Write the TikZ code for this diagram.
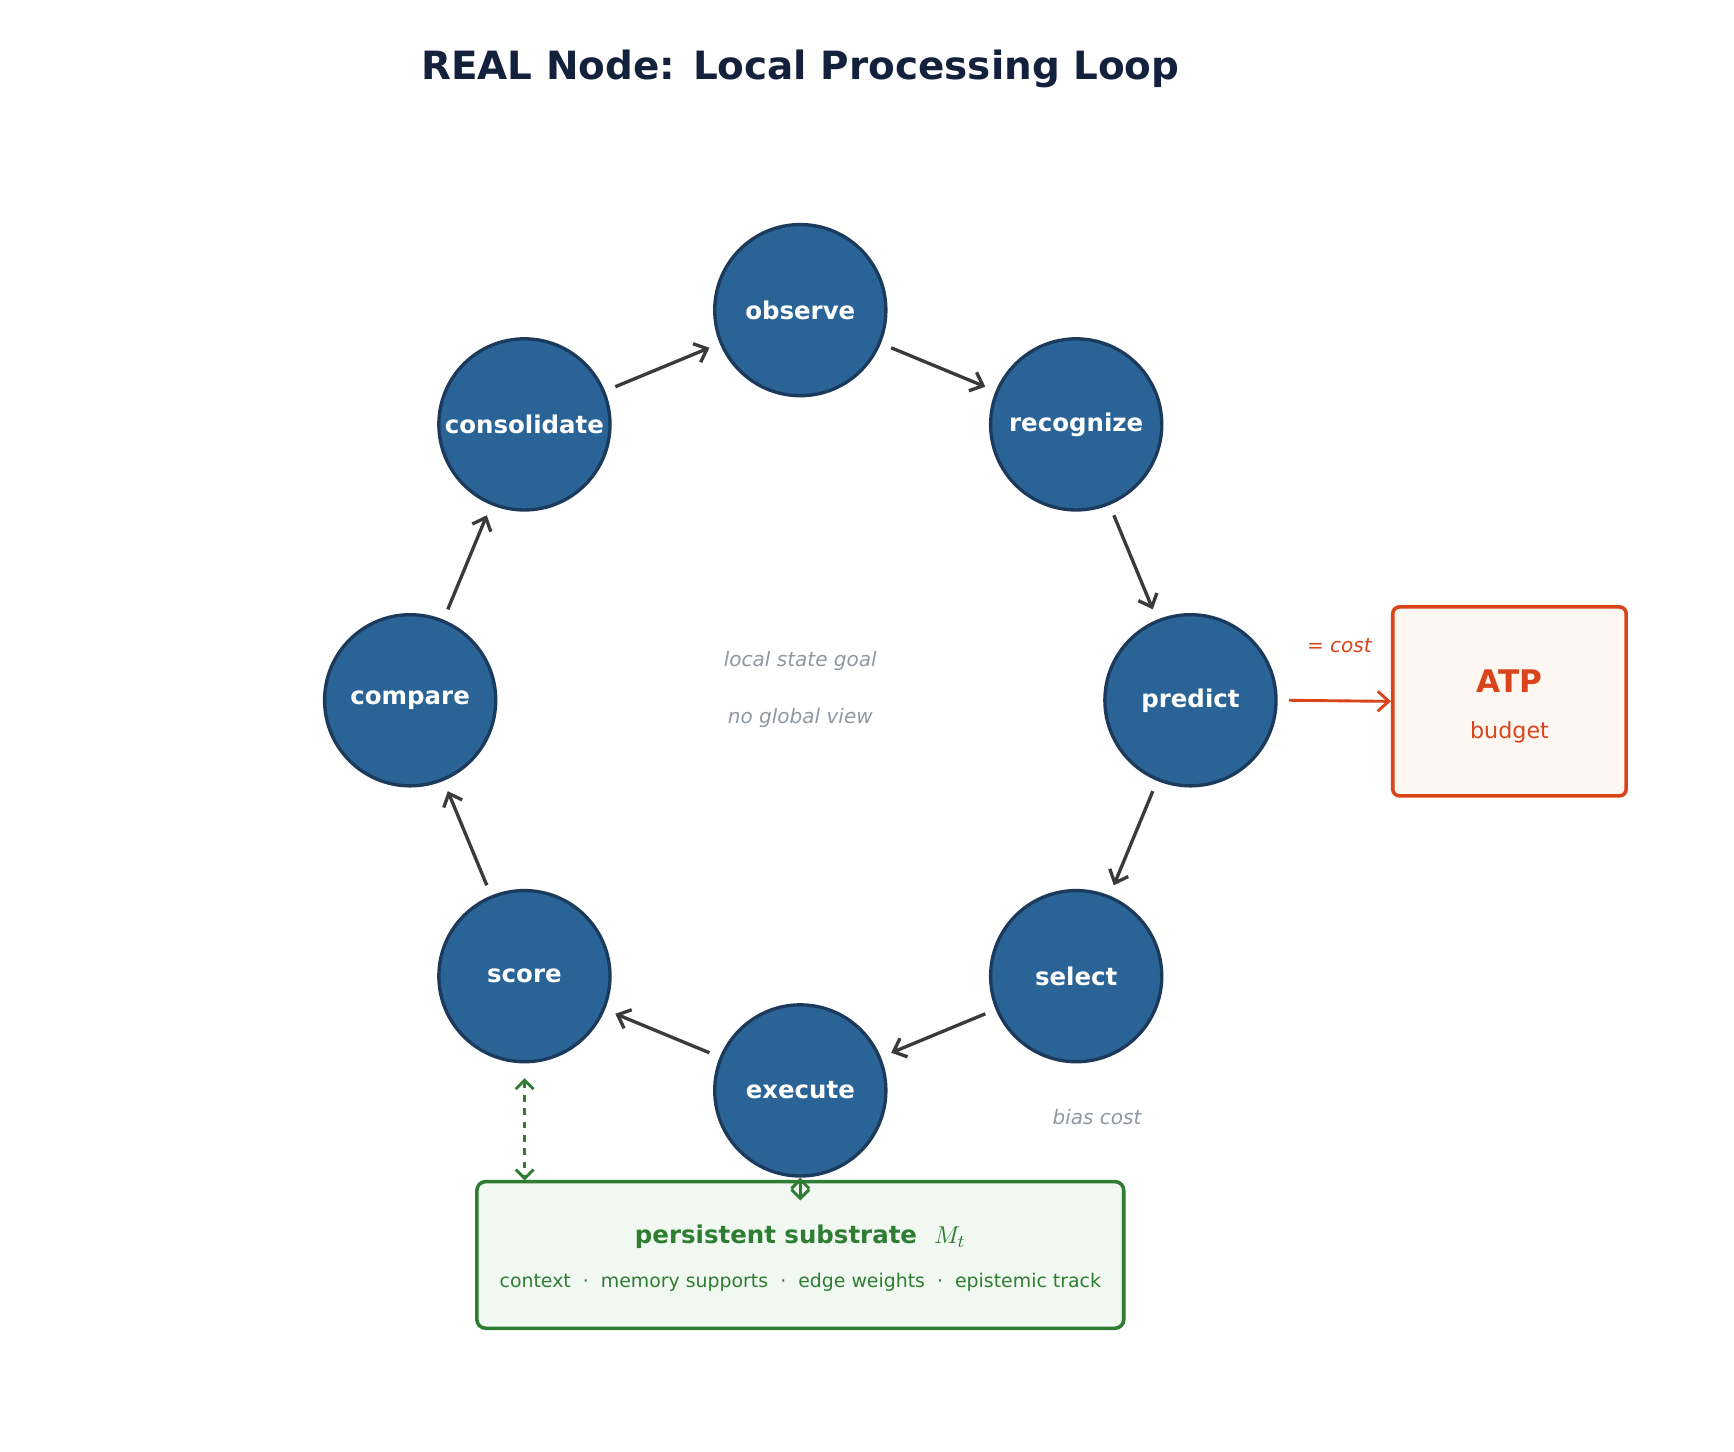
\documentclass[tikz,border=0pt]{standalone}
\usepackage{fontspec}
\setmainfont{DejaVu Sans}
\usetikzlibrary{arrows.meta}
\definecolor{stepfill}{HTML}{2A6496}
\definecolor{stepline}{HTML}{1B3A5C}
\definecolor{titlecol}{HTML}{14213D}
\definecolor{atpred}{HTML}{D9441A}
\definecolor{atpfill}{HTML}{FEF7F1}
\definecolor{subgreen}{HTML}{2E7D32}
\definecolor{subfill}{HTML}{F1F7F1}
\definecolor{notegray}{HTML}{8F979F}
\definecolor{flowgray}{HTML}{3A3A3A}

\begin{document}
\begin{tikzpicture}
	[x=0.5pt, y=-0.5pt,%
	stepnode/.style ={circle, draw=stepline, fill=stepfill, line width=1.5pt, inner sep=0pt, minimum size=77pt, text=white, font=\fontsize{11}{13}\selectfont\bfseries},%
	flow/.style ={-{Straight Barb[length=5pt,width=9pt]}, draw=flowgray, line width=1.5pt, shorten <=5pt, shorten >=5pt},%
	note/.style ={text=notegray, font=\fontsize{9}{11}\selectfont\itshape},%
	]
	\useasboundingbox (0,0) rectangle (1560,1306);

	% title
	\node (title) at (720,62) [text=titlecol, font=\fontsize{17.5}{20}\selectfont\bfseries] {REAL Node: Local Processing Loop};

	% loop nodes
	\foreach \n/\a in {observe/90, recognize/45, predict/0, select/-45, execute/-90, score/-135, compare/180, consolidate/135}
		\node (\n) at ({720+351*cos(\a)},{630-351*sin(\a)}) [stepnode] {\n};

	% notes
	\node (goal) at (720,595) [note] {local state goal};
	\node (view) at (720,646) [note] {no global view};
	\node (bias) at (987,1005) [note] {bias cost};

	% loop arrows
	\foreach \i/\o in {observe/recognize, recognize/predict, predict/select, select/execute, execute/score, score/compare, compare/consolidate, consolidate/observe}
		\draw [flow] (\i) -- (\o);

	% ATP budget
	\node (atp) at (1358,631) [draw=atpred, fill=atpfill, line width=1.6pt, rounded corners=3pt, minimum width=105pt, minimum height=85pt, align=center] {};
	\node at (1358,613) [text=atpred, font=\fontsize{14}{16}\selectfont\bfseries] {ATP};
	\node at (1358,659) [text=atpred, font=\fontsize{10}{12}\selectfont] {budget};
	\draw [-{Straight Barb[length=5pt,width=9pt]}, atpred, line width=1.3pt] (predict.east) ++(10,0) coordinate (pcost) -- (atp.west);
	\node (cost) at (1205,581) [text=atpred, font=\fontsize{9}{11}\selectfont\itshape] {= cost};

	% substrate
	\node (sub) at (720,1129) [draw=subgreen, fill=subfill, line width=1.6pt, rounded corners=4pt, minimum width=291pt, minimum height=66pt] {};
	\node at (720,1113) [text=subgreen, font=\fontsize{11}{13}\selectfont\bfseries] {persistent substrate\ \ \textmd{$M_t$}};
	\node at (720,1154) [text=subgreen, font=\fontsize{8.5}{10}\selectfont] {context\ \ ·\ \ memory supports\ \ ·\ \ edge weights\ \ ·\ \ epistemic track};
	\coordinate (subscore) at (472,1062);
	\draw [{Straight Barb[length=4pt,width=8pt]}-{Straight Barb[length=4pt,width=8pt]}, subgreen, line width=1.3pt, dashed] (472,970) coordinate (scoretip) -- (subscore);
	\coordinate (subexec) at (720,1080);
	\draw [{Straight Barb[length=4pt,width=8pt]}-{Straight Barb[length=4pt,width=8pt]}, subgreen, line width=1.3pt] (subexec) -- (execute.south);
\end{tikzpicture}
\end{document}
